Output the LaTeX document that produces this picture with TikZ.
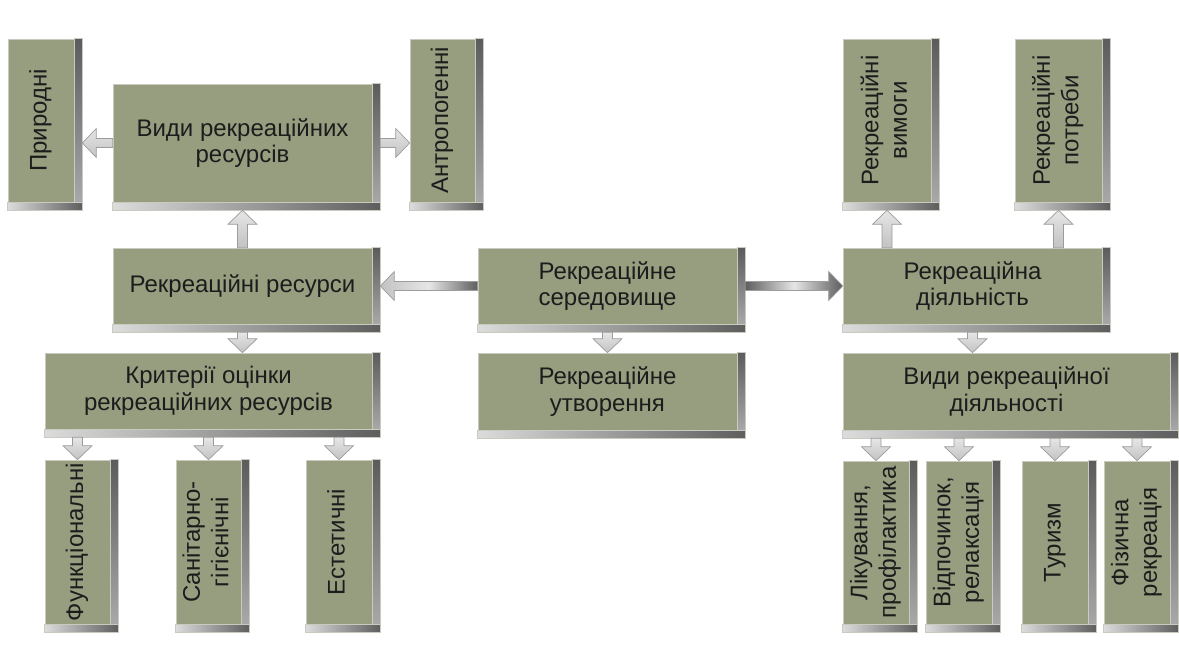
\documentclass[tikz,border=0pt]{standalone}
\usepackage{fontspec}
\setmainfont{Liberation Sans}
\usepackage{graphicx}
\usetikzlibrary{calc}
\definecolor{boxfill}{HTML}{979E80}
\definecolor{boxline}{HTML}{C9CBC0}
\definecolor{txt}{HTML}{1C1C1C}
\definecolor{stripT}{HTML}{5C5C5C}
\definecolor{stripB}{HTML}{A8A8A8}
\definecolor{stripL}{HTML}{DCDCDC}
\definecolor{stripR}{HTML}{5E5E5E}
\definecolor{arrline}{HTML}{9C9C9C}
\definecolor{arrA}{HTML}{E6E6E6}
\definecolor{arrB}{HTML}{C2C2C2}
\newcommand\vt[1]{\rotatebox{90}{\fontsize{24}{28.5}\selectfont\begin{tabular}{@{}c@{}}#1\end{tabular}}}
\tikzset{
  boxbody/.style={fill=boxfill, draw=boxline, line width=0.6pt, inner sep=0pt,
    align=center, text=txt, font=\fontsize{24}{26.5}\selectfont},
  rstrip/.style={top color=stripT, bottom color=stripB, draw=boxline, line width=0.6pt},
  bstrip/.style={left color=stripL, right color=stripR, draw=boxline, line width=0.6pt},
  blk/.style={draw=arrline, line width=0.7pt, top color=arrA, bottom color=arrB},
  harr/.style={to path={let \p1=(\tikztostart), \p2=(\tikztotarget), \n1={sign(\x2-\x1)*14} in
    ({\x1},{\y1+4.5pt}) -- ({\x2-(\n1)*1pt},{\y1+4.5pt}) -- ({\x2-(\n1)*1pt},{\y1+14.5pt}) --
    ({\x2},{\y1}) -- ({\x2-(\n1)*1pt},{\y1-14.5pt}) -- ({\x2-(\n1)*1pt},{\y1-4.5pt}) --
    ({\x1},{\y1-4.5pt}) -- cycle}},
  varr/.style={to path={let \p1=(\tikztostart), \p2=(\tikztotarget), \n1={sign(\y2-\y1)*14} in
    ({\x1+5pt},{\y1}) -- ({\x1+5pt},{\y2-(\n1)*1pt}) -- ({\x1+14.5pt},{\y2-(\n1)*1pt}) --
    ({\x1},{\y2}) -- ({\x1-14.5pt},{\y2-(\n1)*1pt}) -- ({\x1-5pt},{\y2-(\n1)*1pt}) --
    ({\x1-5pt},{\y1}) -- cycle}},
}
% name, x1, y1, x2, y2 (outer box, px), text
\newcommand\rbox[6]{%
  \node[boxbody, minimum width={(#4-#2-8)*1pt}, minimum height={(#5-#3-8)*1pt}]
    (#1) at ({(#2+#4-8)/2},{(#3+#5-8)/2}) {#6};
  \path[rstrip] (#1.north east) rectangle ($(#1.south east)+(8,0)$);
  \path[bstrip] (#1.south west) rectangle ($(#1.south east)+(8,8)$);
}
\begin{document}
\begin{tikzpicture}[x=1pt,y=-1pt]
\useasboundingbox (0,0) rectangle (1179,663);
% left column
\rbox{prir}{8}{39}{82}{210}{\vt{Природні}}
\rbox{vr}{113}{84}{380}{210}{Види рекреаційних\\ресурсів}
\rbox{an}{410}{39}{483}{210}{\vt{Антропогенні}}
\rbox{rr}{113}{248}{380}{332}{Рекреаційні ресурси}
\rbox{kr}{45}{353}{380}{437}{Критерії оцінки\\рекреаційних ресурсів}
\rbox{f1}{45}{460}{118}{632}{\vt{Функціональні}}
\rbox{f2}{176}{460}{249}{632}{\vt{Санітарно-\\гігієнічні}}
\rbox{f3}{306}{460}{380}{632}{\vt{Естетичні}}
% middle column
\rbox{sr}{478}{248}{745}{332}{Рекреаційне\\середовище}
\rbox{ut}{478}{353}{745}{438}{Рекреаційне\\утворення}
% right column
\rbox{vm}{843}{39}{939}{210}{\vt{Рекреаційні\\вимоги}}
\rbox{pt}{1015}{39}{1110}{210}{\vt{Рекреаційні\\потреби}}
\rbox{dl}{843}{248}{1110}{332}{Рекреаційна\\діяльність}
\rbox{vd}{843}{353}{1178}{438}{Види рекреаційної\\діяльності}
\rbox{b1}{843}{461}{917}{632}{\vt{Лікування,\\профілактика}}
\rbox{b2}{926}{461}{1000}{632}{\vt{Відпочинок,\\релаксація}}
\rbox{b3}{1022}{461}{1096}{632}{\vt{Туризм}}
\rbox{b4}{1104}{461}{1178}{632}{\vt{Фізична\\рекреація}}
% connectors
\path[blk,harr] (vr.west) to ($(prir.east)+(8,0)$);
\path[blk,harr] ($(vr.east)+(8,0)$) to (an.west);
\path[blk,varr] (rr.north) to ($(vr.south)+(0,8)$);
\path[blk,varr] ($(rr.south)+(0,8)$) to (kr.north);
\path[blk,varr] ($(f1.north |- kr.south)+(0,8)$) to (f1.north);
\path[blk,varr] ($(f2.north |- kr.south)+(0,8)$) to (f2.north);
\path[blk,varr] ($(f3.north |- kr.south)+(0,8)$) to (f3.north);
\path[draw=arrline, line width=0.7pt, left color=arrB, right color=stripR, middle color=arrA, harr]
  (sr.west) to ($(rr.east)+(8,0)$);
\path[blk,varr] ($(sr.south)+(0,8)$) to (ut.north);
\path[draw=arrline, line width=0.7pt, left color=stripR, right color=stripT, middle color=arrA, harr]
  ($(sr.east)+(8,0)$) to (dl.west);
\path[blk,varr] (vm.south |- dl.north) to ($(vm.south)+(0,8)$);
\path[blk,varr] (pt.south |- dl.north) to ($(pt.south)+(0,8)$);
\path[blk,varr] ($(dl.south)+(0,8)$) to (vd.north);
\path[blk,varr] ($(b1.north |- vd.south)+(0,8)$) to (b1.north);
\path[blk,varr] ($(b2.north |- vd.south)+(0,8)$) to (b2.north);
\path[blk,varr] ($(b3.north |- vd.south)+(0,8)$) to (b3.north);
\path[blk,varr] ($(b4.north |- vd.south)+(0,8)$) to (b4.north);
\end{tikzpicture}
\end{document}
